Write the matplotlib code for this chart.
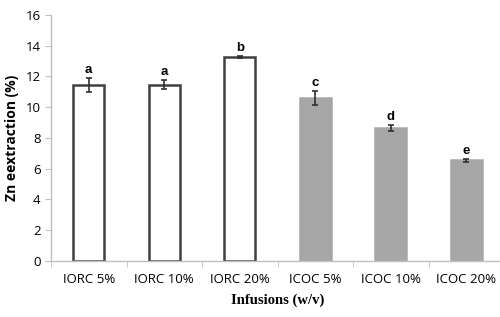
import matplotlib.pyplot as plt
import numpy as np

# data
infusions = ['IORC 5%', 'IORC 10%', 'IORC 20%', 'ICOC 5%', 'ICOC 10%', 'ICOC 20%']
zn_extraction = [11.45, 11.45, 13.25, 10.6, 8.62, 6.55]
zn_err = [0.45, 0.3, 0.08, 0.45, 0.2, 0.1]
letters = ['a', 'a', 'b', 'c', 'd', 'e']

face = ['white', 'white', 'white', '#a6a6a6', '#a6a6a6', '#a6a6a6']
edge = ['#404040', '#404040', '#404040', '#a6a6a6', '#a6a6a6', '#a6a6a6']

fig = plt.figure(figsize=(5.0, 3.17), dpi=100)
ax = fig.add_axes([0.102, 0.177, 0.906, 0.776])

x = np.arange(len(infusions))
ax.bar(x, zn_extraction, width=0.41, color=face, edgecolor=edge, linewidth=1.8, zorder=2)
ax.errorbar(x, zn_extraction, yerr=zn_err, fmt='none', ecolor='#303030',
            elinewidth=1.2, capsize=2.5, capthick=1.2, zorder=3)

for xi, v, e, lab in zip(x, zn_extraction, zn_err, letters):
    ax.text(xi, v + e + 0.12, lab, ha='center', va='bottom',
            fontsize=9.5, fontweight='bold', family='Liberation Sans')

ax.set_xlim(-0.5, 5.5)
ax.set_ylim(0, 16)
ax.set_yticks(range(0, 17, 2))
ax.set_xticks(x)
ax.set_xticklabels(infusions, family='Open Sans', fontsize=9.5)
ax.set_xticks(np.arange(-0.5, 5.6, 1), minor=True)
ax.tick_params(axis='x', which='major', length=0, pad=9)
ax.tick_params(axis='x', which='minor', length=4, color='#bfbfbf')
ax.tick_params(axis='y', length=4, color='#bfbfbf', labelsize=9.5)
for lab in ax.get_yticklabels():
    lab.set_family('Open Sans')

for s in ['top', 'right']:
    ax.spines[s].set_visible(False)
for s in ['left', 'bottom']:
    ax.spines[s].set_color('#bfbfbf')
    ax.spines[s].set_linewidth(1.0)

ax.set_ylabel('Zn eextraction (%)', fontsize=10, fontweight='bold', family='Open Sans', labelpad=5)
ax.set_xlabel('Infusions (w/v)', fontsize=10.5, fontweight='bold', family='Liberation Serif', labelpad=5)

plt.savefig('out.png', dpi=100)
